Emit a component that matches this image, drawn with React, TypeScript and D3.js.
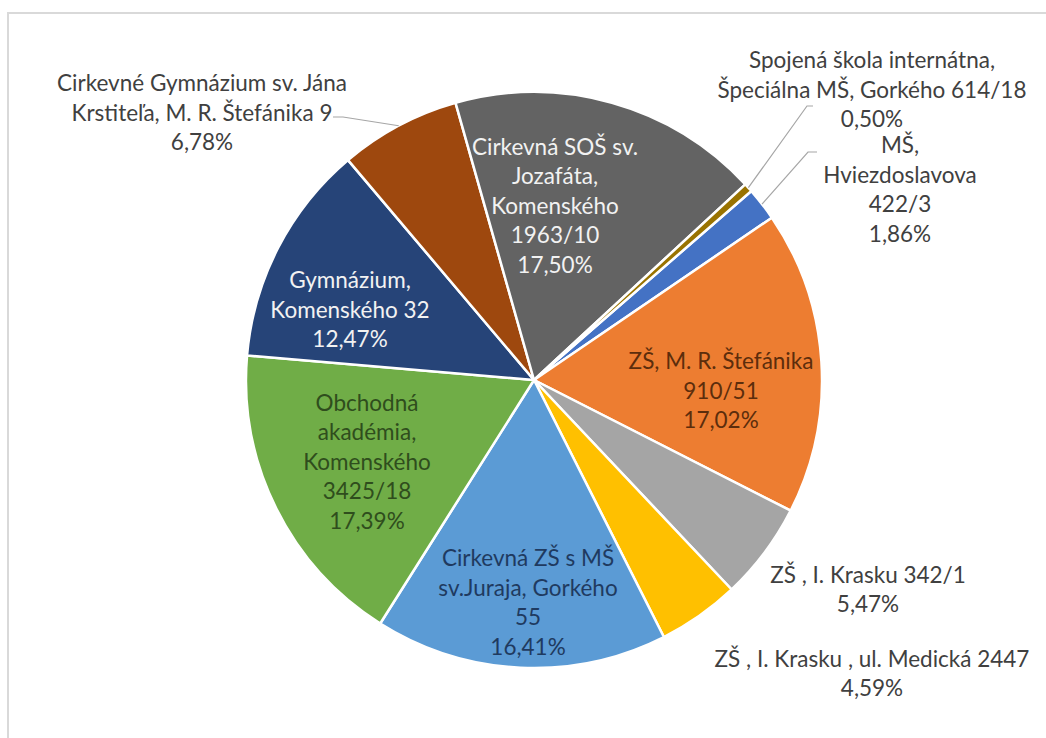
import React, { useEffect, useRef } from 'react';
import * as d3 from 'd3';

// slice order as in the source workbook (Excel starts with the first row)
const schools = [
  'MŠ, Hviezdoslavova 422/3',
  'ZŠ, M. R. Štefánika 910/51',
  'ZŠ , I. Krasku 342/1',
  'ZŠ , I. Krasku , ul. Medická 2447',
  'Cirkevná ZŠ s MŠ sv.Juraja, Gorkého 55',
  'Obchodná akadémia, Komenského 3425/18',
  'Gymnázium, Komenského 32',
  'Cirkevné Gymnázium sv. Jána Krstiteľa, M. R. Štefánika 9',
  'Cirkevná SOŠ sv. Jozafáta, Komenského 1963/10',
  'Spojená škola internátna, Špeciálna MŠ, Gorkého 614/18',
];

const shares = [1.86, 17.02, 5.47, 4.59, 16.41, 17.39, 12.47, 6.78, 17.5, 0.5];

const labelText = [
  ['MŠ,', 'Hviezdoslavova', '422/3'],
  ['ZŠ, M. R. Štefánika', '910/51'],
  ['ZŠ , I. Krasku 342/1'],
  ['ZŠ , I. Krasku , ul. Medická 2447'],
  ['Cirkevná ZŠ s MŠ', 'sv.Juraja, Gorkého', '55'],
  ['Obchodná', 'akadémia,', 'Komenského', '3425/18'],
  ['Gymnázium,', 'Komenského 32'],
  ['Cirkevné Gymnázium sv. Jána', 'Krstiteľa, M. R. Štefánika 9'],
  ['Cirkevná SOŠ sv.', 'Jozafáta,', 'Komenského', '1963/10'],
  ['Spojená škola internátna,', 'Špeciálna MŠ, Gorkého 614/18'],
];

const fills = ['#4472C4', '#ED7D31', '#A5A5A5', '#FFC000', '#5B9BD5', '#70AD47', '#264478', '#9E480E', '#636363', '#997300'];
const textFills = ['#404040', '#5c2d0c', '#404040', '#404040', '#1f3a60', '#2f4d1d', '#f2f2f2', '#404040', '#f2f2f2', '#404040'];

// label block centres, px from the pie centre (labels were dragged by hand in the original)
const labelPos: [number, number][] = [
  [366, -191], [187, 10], [334, 209], [338, 293], [-6, 222],
  [-167, 81], [-184, -71], [-332, -268], [21, -175], [338, -291],
];
// leader lines: where the line leaves the label, plus a short horizontal stub
const leaders: { [k: number]: [number, number, number] } = {
  0: [283, -228, -9],
  7: [-201, -263, 10],
  9: [279, -274, -6],
};

const fmt = (v: number) => v.toFixed(2).replace('.', ',') + '%';

const App: React.FC = () => {
  const svgRef = useRef<SVGSVGElement>(null);

  useEffect(() => {
    if (!svgRef.current) return;
    const width = 1046;
    const height = 738;
    const cx = 534;
    const cy = 380;
    const r = 288;
    const lineH = 29.5;

    const svg = d3.select(svgRef.current);
    svg.selectAll('*').remove();

    svg.append('rect')
      .attr('x', 8).attr('y', 13)
      .attr('width', width + 20).attr('height', height + 20)
      .attr('fill', '#fff')
      .attr('stroke', '#d9d9d9')
      .attr('stroke-width', 2);

    const g = svg.append('g').attr('transform', `translate(${cx},${cy})`);

    const rot = (49 * Math.PI) / 180;
    const pie = d3.pie<number>().sort(null).value(d => d)
      .startAngle(rot).endAngle(rot + 2 * Math.PI);
    const arcs = pie(shares);
    const arc = d3.arc<d3.PieArcDatum<number>>().innerRadius(0).outerRadius(r);

    g.selectAll('path.slice')
      .data(arcs)
      .join('path')
      .attr('class', 'slice')
      .attr('d', arc)
      .attr('fill', (_, i) => fills[i])
      .attr('stroke', '#fff')
      .attr('stroke-width', 2.5)
      .attr('stroke-linejoin', 'round');

    // leader lines
    Object.keys(leaders).forEach(k => {
      const i = +k;
      const a = arcs[i];
      const mid = (a.startAngle + a.endAngle) / 2;
      const ex = r * Math.sin(mid);
      const ey = -r * Math.cos(mid);
      const [sx, sy, stub] = leaders[i];
      const pts: [number, number][] = [[sx, sy], [sx + stub, sy], [ex, ey]];
      g.append('path')
        .attr('d', d3.line()(pts))
        .attr('fill', 'none')
        .attr('stroke', '#a6a6a6')
        .attr('stroke-width', 1.2);
    });

    // labels
    arcs.forEach((a, i) => {
      const lines = [...labelText[i], fmt(shares[i])];
      const [lx, ly] = labelPos[i];
      const t = g.append('text')
        .attr('text-anchor', 'middle')
        .attr('font-family', 'Lato, "Open Sans", sans-serif')
        .attr('font-size', 22.5)
        .attr('fill', textFills[i]);
      lines.forEach((ln, j) => {
        t.append('tspan')
          .attr('x', lx)
          .attr('y', ly - ((lines.length - 1) * lineH) / 2 + j * lineH)
          .attr('dominant-baseline', 'central')
          .text(ln);
      });
    });
  }, []);

  return (
    <svg
      ref={svgRef}
      width={1046}
      height={738}
      style={{ position: 'absolute', left: 0, top: 0, display: 'block', background: '#fff' }}
    />
  );
};

export default App;
